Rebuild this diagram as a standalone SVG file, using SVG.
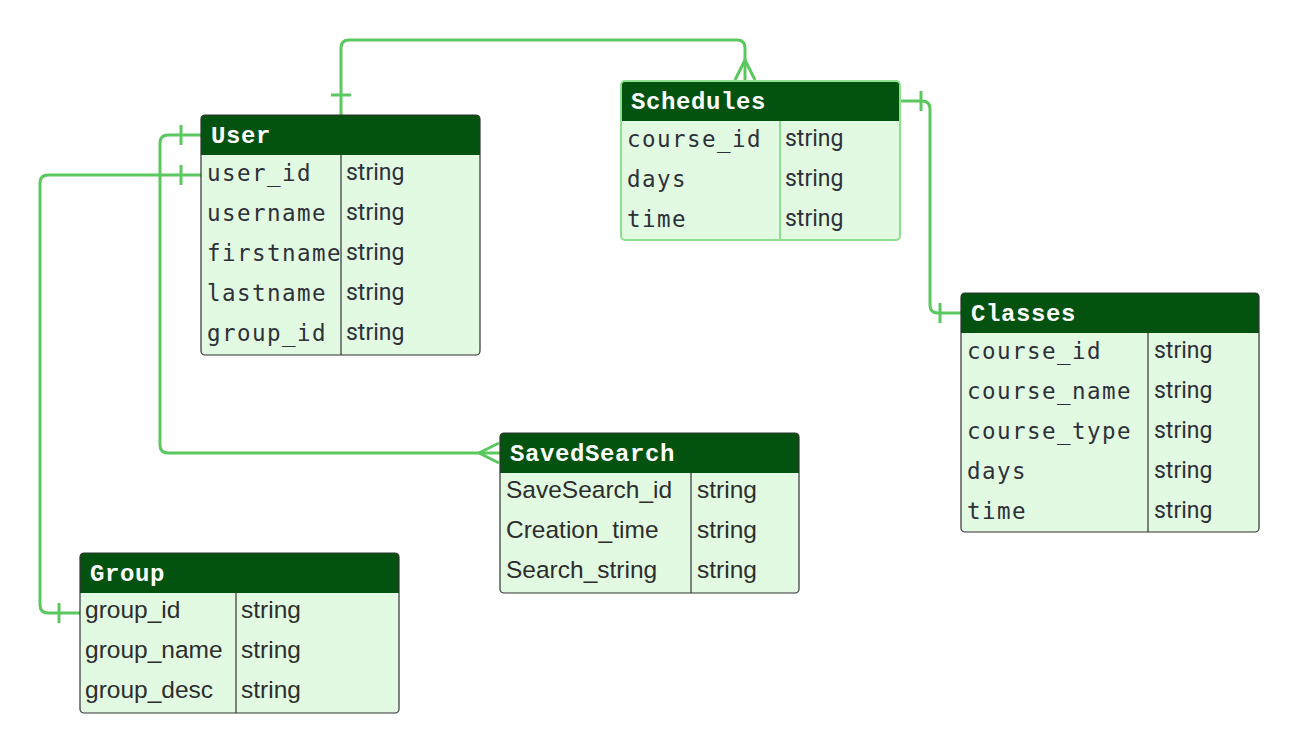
<svg xmlns="http://www.w3.org/2000/svg" width="1301" height="753" viewBox="0 0 1301 753">
<style>
.body{fill:#e2f9e2;}
.hdr{fill:#03520f;}
.frame{fill:none;stroke:#333;stroke-width:1.2;}
.frame.sel{stroke:#8ee08e;stroke-width:2;}
.div{stroke:#333;stroke-width:1.2;}
.div.sel{stroke:#8ee08e;stroke-width:2;}
.title{font-family:"Liberation Mono",monospace;font-weight:bold;font-size:24px;letter-spacing:0.6px;fill:#ffffff;}
.mono{font-family:"DejaVu Sans Mono",monospace;font-size:22.5px;letter-spacing:1.45px;fill:#2d3038;}
.sans{font-family:"Liberation Sans",Arial,sans-serif;font-size:24.5px;fill:#2d2d2d;}
.typ{font-family:Roboto,"Liberation Sans",sans-serif;font-size:23px;fill:#2d3038;}
.conn{fill:none;stroke:#5ac85f;stroke-width:3;stroke-linejoin:round;}
</style>
<rect width="1301" height="753" fill="#ffffff"/>
<g id="connectors">
<path class="conn" d="M341,115 V48 Q341,40 349,40 H737 Q745,40 745,48 V81"/>
<path class="conn" d="M331,95 H351"/>
<path class="conn" d="M735,80 L745,60 L755,80"/>
<path class="conn" d="M900,101 H922 Q930,101 930,109 V305 Q930,313 938,313 H961"/>
<path class="conn" d="M921,91 V111 M940,303 V323"/>
<path class="conn" d="M201,135 H168 Q160,135 160,143 V445 Q160,453 168,453 H500"/>
<path class="conn" d="M181,125 V145"/>
<path class="conn" d="M499,443 L479,453 L499,463"/>
<path class="conn" d="M201,175 H48 Q40,175 40,183 V605 Q40,613 48,613 H80"/>
<path class="conn" d="M181,165 V185 M59,603 V623"/>
</g>
<g id="User">
<rect class="body" x="201" y="115" width="279" height="240" rx="4"/>
<path class="hdr" d="M201,155 V119 Q201,115 205,115 H476 Q480,115 480,119 V155 Z"/>
<line class="div" x1="341" y1="155" x2="341" y2="355"/>
<rect class="frame" x="201" y="115" width="279" height="240" rx="4"/>
<text class="title" x="211" y="143">User</text>
<text class="mono" x="207" y="181">user_id</text>
<text class="mono" x="207" y="221">username</text>
<text class="mono" x="207" y="261">firstname</text>
<text class="mono" x="207" y="301">lastname</text>
<text class="mono" x="207" y="341">group_id</text>
<text class="typ" x="346" y="180">string</text>
<text class="typ" x="346" y="220">string</text>
<text class="typ" x="346" y="260">string</text>
<text class="typ" x="346" y="300">string</text>
<text class="typ" x="346" y="340">string</text>
</g>
<g id="Schedules">
<rect class="body" x="621" y="81" width="279" height="159" rx="4"/>
<path class="hdr" d="M621,121 V85 Q621,81 625,81 H896 Q900,81 900,85 V121 Z"/>
<line class="div sel" x1="780" y1="121" x2="780" y2="240"/>
<rect class="frame sel" x="621" y="81" width="279" height="159" rx="4"/>
<text class="title" x="631" y="109">Schedules</text>
<text class="mono" x="627" y="147">course_id</text>
<text class="mono" x="627" y="187">days</text>
<text class="mono" x="627" y="227">time</text>
<text class="typ" x="785" y="146">string</text>
<text class="typ" x="785" y="186">string</text>
<text class="typ" x="785" y="226">string</text>
</g>
<g id="Classes">
<rect class="body" x="961" y="293" width="298" height="239" rx="4"/>
<path class="hdr" d="M961,333 V297 Q961,293 965,293 H1255 Q1259,293 1259,297 V333 Z"/>
<line class="div" x1="1148" y1="333" x2="1148" y2="532"/>
<rect class="frame" x="961" y="293" width="298" height="239" rx="4"/>
<text class="title" x="971" y="321">Classes</text>
<text class="mono" x="967" y="359">course_id</text>
<text class="mono" x="967" y="399">course_name</text>
<text class="mono" x="967" y="439">course_type</text>
<text class="mono" x="967" y="479">days</text>
<text class="mono" x="967" y="519">time</text>
<text class="typ" x="1154" y="358">string</text>
<text class="typ" x="1154" y="398">string</text>
<text class="typ" x="1154" y="438">string</text>
<text class="typ" x="1154" y="478">string</text>
<text class="typ" x="1154" y="518">string</text>
</g>
<g id="SavedSearch">
<rect class="body" x="500" y="433" width="299" height="160" rx="4"/>
<path class="hdr" d="M500,473 V437 Q500,433 504,433 H795 Q799,433 799,437 V473 Z"/>
<line class="div" x1="691" y1="473" x2="691" y2="593"/>
<rect class="frame" x="500" y="433" width="299" height="160" rx="4"/>
<text class="title" x="510" y="461">SavedSearch</text>
<text class="sans" x="506" y="498">SaveSearch_id</text>
<text class="sans" x="506" y="538">Creation_time</text>
<text class="sans" x="506" y="578">Search_string</text>
<text class="sans" x="697" y="498">string</text>
<text class="sans" x="697" y="538">string</text>
<text class="sans" x="697" y="578">string</text>
</g>
<g id="Group">
<rect class="body" x="80" y="553" width="319" height="160" rx="4"/>
<path class="hdr" d="M80,593 V557 Q80,553 84,553 H395 Q399,553 399,557 V593 Z"/>
<line class="div" x1="236" y1="593" x2="236" y2="713"/>
<rect class="frame" x="80" y="553" width="319" height="160" rx="4"/>
<text class="title" x="90" y="581">Group</text>
<text class="sans" x="85" y="618">group_id</text>
<text class="sans" x="85" y="658">group_name</text>
<text class="sans" x="85" y="698">group_desc</text>
<text class="sans" x="241" y="618">string</text>
<text class="sans" x="241" y="658">string</text>
<text class="sans" x="241" y="698">string</text>
</g>
</svg>
